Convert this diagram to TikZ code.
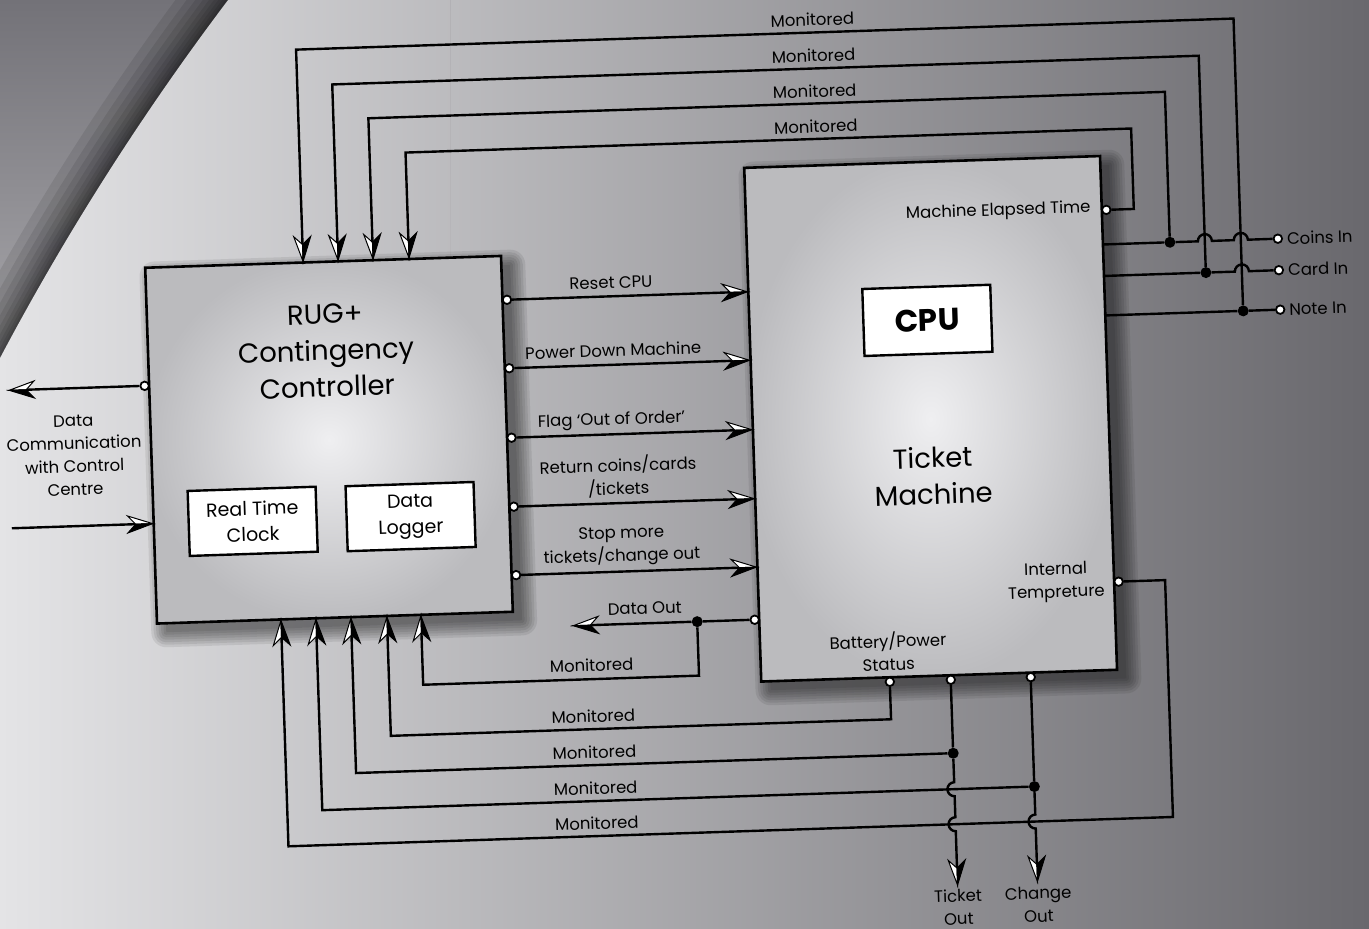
\documentclass[tikz,border=0pt]{standalone}
\usepackage{fontspec}
\setmainfont{Poppins}
\usetikzlibrary{arrows.meta}
\definecolor{bgL}{HTML}{E4E4E6}
\definecolor{bgM}{HTML}{A7A6AA}
\definecolor{bgR}{HTML}{69686D}
\definecolor{outT}{HTML}{737278}
\definecolor{outB}{HTML}{ABAAAE}
\definecolor{boxIn}{HTML}{EFEFF1}
\definecolor{boxOut}{HTML}{BBBBBE}
\newcommand\fsmall{\fontsize{16.5}{23}\selectfont}
\newcommand\fmid{\fontsize{19}{26}\selectfont}
\newcommand\fbig{\fontsize{27.5}{36.5}\selectfont}
\newcommand\fcpu{\fontsize{31}{36}\selectfont\bfseries}

% arrow with white half on the left-hand side of its direction
\pgfdeclarearrow{
  name = HSa,
  setup code = {
    \pgfarrowssettipend{0pt}
    \pgfarrowssetlineend{-14pt}
    \pgfarrowssetbackend{-25pt}
    \pgfarrowssetvisualbackend{-17pt}
    \pgfarrowsupperhullpoint{-25pt}{8.5pt}
    \pgfarrowsupperhullpoint{0pt}{0pt}
  },
  drawing code = {
    \pgfsetdash{}{0pt}
    \pgfsetmiterjoin
    \pgfsetlinewidth{1pt}
    \pgfpathmoveto{\pgfqpoint{0pt}{0pt}}
    \pgfpathlineto{\pgfqpoint{-25pt}{8.5pt}}
    \pgfpathlineto{\pgfqpoint{-17pt}{0pt}}
    \pgfpathclose
    \pgfsetfillcolor{white}
    \pgfusepathqfillstroke
    \pgfpathmoveto{\pgfqpoint{0pt}{0pt}}
    \pgfpathlineto{\pgfqpoint{-25pt}{-8.5pt}}
    \pgfpathlineto{\pgfqpoint{-17pt}{0pt}}
    \pgfpathclose
    \pgfsetfillcolor{black}
    \pgfusepathqfillstroke
  }
}
% arrow with white half on the right-hand side of its direction
\pgfdeclarearrow{
  name = HSb,
  setup code = {
    \pgfarrowssettipend{0pt}
    \pgfarrowssetlineend{-14pt}
    \pgfarrowssetbackend{-25pt}
    \pgfarrowssetvisualbackend{-17pt}
    \pgfarrowsupperhullpoint{-25pt}{8.5pt}
    \pgfarrowsupperhullpoint{0pt}{0pt}
  },
  drawing code = {
    \pgfsetdash{}{0pt}
    \pgfsetmiterjoin
    \pgfsetlinewidth{1pt}
    \pgfpathmoveto{\pgfqpoint{0pt}{0pt}}
    \pgfpathlineto{\pgfqpoint{-25pt}{-8.5pt}}
    \pgfpathlineto{\pgfqpoint{-17pt}{0pt}}
    \pgfpathclose
    \pgfsetfillcolor{white}
    \pgfusepathqfillstroke
    \pgfpathmoveto{\pgfqpoint{0pt}{0pt}}
    \pgfpathlineto{\pgfqpoint{-25pt}{8.5pt}}
    \pgfpathlineto{\pgfqpoint{-17pt}{0pt}}
    \pgfpathclose
    \pgfsetfillcolor{black}
    \pgfusepathqfillstroke
  }
}

\tikzset{
  wireln/.style={line width=2.4pt, draw=black, line join=miter, line cap=butt},
  bigbox/.style={draw=black, line width=2.6pt, shading=radial, inner color=boxIn, outer color=boxOut},
  shd/.style={fill=black, opacity=0.08},
  whitebox/.style={draw=black, line width=2.4pt, fill=white, align=center, inner sep=0pt},
  portc/.style={circle, draw=black, fill=white, line width=1.8pt, inner sep=0pt, minimum size=8.5pt},
  jdot/.style={circle, fill=black, inner sep=0pt, minimum size=11pt},
  lbl/.style={font=\fsmall, inner sep=0pt, align=center},
}

\begin{document}
\begin{tikzpicture}[x=1pt,y=-1pt]
\useasboundingbox (0,0) rectangle (1369,929);
% background
\shade[left color=bgL, middle color=bgM, right color=bgR] (0,0) rectangle (1369,929);
\begin{scope}[even odd rule]
  \clip (-100,-100) rectangle (450,520) (2340,1594) circle[radius=2646pt];
  \shade[top color=outT, bottom color=outB] (-100,0) rectangle (450,380);
  \foreach \w in {84,66,52,40,30,22,15,9,4}
    \draw[line width=\w pt, black, opacity=0.09] (2340,1594) circle[radius=2646pt];
\end{scope}

\begin{scope}[rotate around={1.9:(684,464)}, transform shape]
% soft shadows of the two large boxes (offset down-right)
\foreach \g in {0,2.5,5,7.5,10,12.5,15} {
  \fill[shd, rounded corners=\g pt] (161-\g,259-\g) -- (517+\g,259-\g) -- (517+\g,615+\g) -- (161-\g,615+\g) -- cycle;
  \fill[shd, rounded corners=\g pt] (763-\g,179-\g) -- (1119+\g,179-\g) -- (1119+\g,693+\g) -- (763-\g,693+\g) -- cycle;
}
% boxes
\node[bigbox, minimum width=356pt, minimum height=356pt] (rug) at (330,428) {};
\node[bigbox, minimum width=356pt, minimum height=514pt] (tm) at (932,427) {};
\node[whitebox, minimum width=128pt, minimum height=67pt, font=\fcpu] (cpu) at (932,328.5) {CPU};
\node[whitebox, minimum width=128pt, minimum height=65pt, font=\fmid] (rtc) at (251,507) {Real Time\\Clock};
\node[whitebox, minimum width=128pt, minimum height=65pt, font=\fmid] (dl) at (409,507.5) {Data\\Logger};

\node[font=\fbig, align=center, inner sep=0pt] (rugt) at (330,339) {RUG+\\Contingency\\Controller};
\node[font=\fbig, align=center, inner sep=0pt] (tmt) at (932.6,484) {Ticket\\Machine};

% ports
\node[portc] (pR1) at (512.5,294) {};
\node[portc] (pR2) at (512.5,362.5) {};
\node[portc] (pR3) at (512.5,432) {};
\node[portc] (pR4) at (512.5,501) {};
\node[portc] (pR5) at (512.5,569.5) {};
\node[portc] (pDC) at (147.5,368) {};
\node[portc] (pMET) at (1114.5,224) {};
\node[portc] (pIT) at (1114.5,596) {};
\node[portc] (pDO) at (749.5,622) {};
\node[portc] (pBat) at (882.5,688.5) {};
\node[portc] (pTO) at (943.5,688.5) {};
\node[portc] (pCO) at (1023.5,688.5) {};
\node[portc] (pCoins) at (1285,258.5) {};
\node[portc] (pCard) at (1285,290) {};
\node[portc] (pNote) at (1285,329.5) {};

% junctions
\node[jdot] (jCoins) at (1177,258.5) {};
\node[jdot] (jCard) at (1212,290) {};
\node[jdot] (jNote) at (1248,329.5) {};
\node[jdot] (jDO) at (692,622) {};
\node[jdot] (jTO) at (943.5,762) {};
\node[jdot] (jCO) at (1023.5,798) {};

% edge coordinates
\coordinate (tR1) at (753,294);
\coordinate (tR2) at (753,362.5);
\coordinate (tR3) at (753,432);
\coordinate (tR4) at (753,501);
\coordinate (tR5) at (753,569.5);
\coordinate (rt1) at (310,249);
\coordinate (rt2) at (345,249);
\coordinate (rt3) at (380,249);
\coordinate (rt4) at (416,249);
\coordinate (rb1) at (276,607);
\coordinate (rb2) at (311,607);
\coordinate (rb3) at (346,607);
\coordinate (rb4) at (382,607);
\coordinate (rb5) at (416,607);
\coordinate (rl) at (151,506);
\coordinate (dcIn) at (10,506);
\coordinate (dcOut) at (12,368);
\coordinate (doTip) at (568,622);
\coordinate (toTip) at (943.5,894);
\coordinate (coTip) at (1023.5,893);
\coordinate (eCoins) at (1110,258.5);
\coordinate (eCard) at (1110,290);
\coordinate (eNote) at (1110,329.5);

% RUG -> ticket machine
\foreach \i in {1,...,5}
  \draw[wireln, -{HSa}] (pR\i) -- (tR\i);

% data communication
\draw[wireln, -{HSb}] (pDC) -- (dcOut);
\draw[wireln, -{HSa}] (dcIn) -- (rl);

% inputs on the right
\draw[wireln] (eCoins) -- (jCoins) -- (1205,258.5) arc[start angle=180, end angle=0, radius=7pt]
  -- (1241,258.5) arc[start angle=180, end angle=0, radius=7pt] -- (pCoins);
\draw[wireln] (eCard) -- (jCard) -- (1241,290) arc[start angle=180, end angle=0, radius=7pt] -- (pCard);
\draw[wireln] (eNote) -- (jNote) -- (pNote);

% top monitored lines
\draw[wireln, -{HSb}] (jNote) -- (1248,37) -- (310,37) -- (rt1);
\draw[wireln, -{HSb}] (jCard) -- (1212,73) -- (345,73) -- (rt2);
\draw[wireln, -{HSb}] (jCoins) -- (1177,108) -- (380,108) -- (rt3);
\draw[wireln, -{HSb}] (pMET) -- (1142,224) -- (1142,143.5) -- (416,143.5) -- (rt4);

% data out
\draw[wireln, -{HSb}] (pDO) -- (jDO) -- (doTip);

% bottom monitored lines
\draw[wireln, -{HSa}] (jDO) -- (692,676) -- (416,676) -- (rb5);
\draw[wireln, -{HSa}] (pBat) -- (882.5,726) -- (382,726) -- (rb4);
\draw[wireln, -{HSa}] (jTO) -- (346,762) -- (rb3);
\draw[wireln, -{HSa}] (jCO) -- (311,798) -- (rb2);
\draw[wireln, -{HSa}] (pIT) -- (1161,596) -- (1161,833) -- (276,833) -- (rb1);

% ticket out / change out
\draw[wireln, -{HSb}] (pTO) -- (jTO) -- (943.5,791) arc[start angle=90, end angle=270, radius=7pt]
  -- (943.5,826) arc[start angle=90, end angle=270, radius=7pt] -- (toTip);
\draw[wireln, -{HSb}] (pCO) -- (jCO) -- (1023.5,826) arc[start angle=90, end angle=270, radius=7pt] -- (coTip);

% labels
\node[lbl] (m1) at (827,24) {Monitored};
\node[lbl] (m2) at (827,60) {Monitored};
\node[lbl] (m3) at (827,95.5) {Monitored};
\node[lbl] (m4) at (827,131) {Monitored};
\node[lbl] (b5) at (585,662) {Monitored};
\node[lbl] (b4) at (585,713) {Monitored};
\node[lbl] (b3) at (585,749) {Monitored};
\node[lbl] (b2) at (585,785) {Monitored};
\node[lbl] (b1) at (585,820) {Monitored};
\node[lbl] (l1) at (617,280.5) {Reset CPU};
\node[lbl] (l2) at (617,348) {Power Down Machine};
\node[lbl] (l3) at (613,418.5) {Flag ‘Out of Order’};
\node[lbl] (l4) at (618,474.5) {Return coins/cards\\/tickets};
\node[lbl] (l5) at (619,544) {Stop more\\tickets/change out};
\node[lbl] (ldo) at (640,607) {Data Out};
\node[lbl, anchor=east] (lmet) at (1099,222) {Machine Elapsed Time};
\node[lbl] (lit) at (1052,594.5) {Internal\\Tempreture};
\node[lbl] (lbat) at (882,658) {Battery/Power\\Status};
\node[lbl] (lto) at (943.6,916) {Ticket\\Out};
\node[lbl] (lco) at (1023.7,916) {Change\\Out};
\node[lbl, anchor=west] (lcoins) at (1294,258.5) {Coins In};
\node[lbl, anchor=west] (lcard) at (1294,290) {Card In};
\node[lbl, anchor=west] (lnote) at (1294,329.5) {Note In};
\node[lbl] (ldc) at (75,435) {Data\\Communication\\with Control\\Centre};
\end{scope}
\end{tikzpicture}
\end{document}
